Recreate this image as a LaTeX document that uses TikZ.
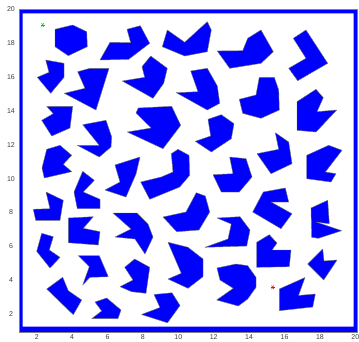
\documentclass[tikz,border=0pt]{standalone}
\usepackage{fontspec}
\setmainfont{Liberation Sans}
\begin{document}
\begin{tikzpicture}[x=1pt,y=-1pt,
  obs/.style={fill=blue, draw=black!55, line width=0.4pt, line join=round},
  ticklab/.style={font=\fontsize{7}{8}\selectfont, text=black!75, inner sep=0pt}]
\useasboundingbox (0,0) rectangle (359,341);
\fill[white] (0,0) rectangle (359,341);
% frame
\fill[blue, even odd rule] (19,9) rectangle (357,332) (22.5,13.3) rectangle (353.5,326.7);
\draw[black!50, line width=0.5pt] (19,9) rectangle (357,332);
% tick labels
\foreach \v in {2,4,...,20} {
  \node[ticklab] (xl\v) at ({19+(\v-1)*17.7},337.5) {\v};
  \node[ticklab] (yl\v) at (11,{331-(\v-1)*16.93}) {\v};
}
% obstacles
\draw[obs] (55,29.3)--(72.7,25)--(86.7,31.7)--(87.3,46.7)--(68.3,55.7)--(55,46.7)--cycle;
\draw[obs] (100,60)--(110,42.3)--(130.7,42.7)--(127,29.3)--(140.3,25.7)--(149.7,43.3)--(128.7,59.3)--cycle;
\draw[obs] (162.3,46.7)--(167.3,30)--(184.7,42.3)--(207.3,21.7)--(211.3,30)--(207.3,51.7)--(184.7,56)--cycle;
\draw[obs] (217.3,51)--(242.7,50.7)--(247.7,38.3)--(261,30)--(273.3,51.7)--(261,63.3)--(229.7,68.3)--cycle;
\draw[obs] (293.3,38.3)--(306,30)--(327.7,63.3)--(297.7,80.7)--(288.7,68.3)--(306,58.3)--cycle;
\draw[obs] (45.7,60)--(64,63.3)--(64,77.3)--(50.7,93.3)--(37.3,77.3)--(49,72.3)--cycle;
\draw[obs] (77.7,71.7)--(90,68.3)--(109,68.3)--(96,110)--(64.3,93.3)--(85,88.3)--cycle;
\draw[obs] (122.3,81)--(144.7,77.3)--(142,66.7)--(150.7,56)--(167.3,68.3)--(163.7,83.3)--(153,98.3)--cycle;
\draw[obs] (190.7,71)--(207.3,68.3)--(217.3,86)--(219.7,103.3)--(207.3,110)--(176.3,92.7)--(198,91.7)--cycle;
\draw[obs] (259.3,77.3)--(274.3,77.3)--(278.7,90)--(279.3,110)--(261,118.3)--(242.7,113.3)--(239.3,99.3)--(256,95)--cycle;
\draw[obs] (297,101.7)--(316,89.3)--(323.3,97.7)--(317,111.7)--(336.7,110)--(316,132)--(297,130.3)--cycle;
\draw[obs] (46.7,106.3)--(72.7,106.3)--(70,128)--(51.7,136)--(41.7,120.3)--(53.3,113.7)--cycle;
\draw[obs] (82.7,124.7)--(106,120.3)--(111.7,137)--(111,147)--(99.3,157)--(77.3,145.3)--(99.3,145.3)--cycle;
\draw[obs] (138.3,108)--(171.7,106.3)--(180.7,125.3)--(163,148.7)--(127.3,132)--(151.3,128)--(136,113)--cycle;
\draw[obs] (208,119.3)--(221.3,114.7)--(234,123.7)--(231.3,138.7)--(211.3,152)--(195.3,141.3)--(210.7,136)--cycle;
\draw[obs] (275.3,132.7)--(288.7,142)--(292,163.7)--(271,173.7)--(257,153.7)--(278.7,149.3)--cycle;
\draw[obs] (306.7,155.3)--(328.7,145.3)--(342,150.3)--(325.3,172)--(336,173.7)--(331,182)--(306.7,178.7)--cycle;
\draw[obs] (46.7,149.3)--(60,145.3)--(71.7,155.3)--(63.3,164.3)--(71.7,171.7)--(44.3,178)--(42,168)--cycle;
\draw[obs] (74,192)--(82.7,171.3)--(94.3,180.3)--(83.3,192)--(100,199.3)--(100,208.7)--(77.3,208.7)--cycle;
\draw[obs] (46,192)--(63.3,200.3)--(60,220.3)--(35.7,220.3)--(33.3,209.3)--(50,208.7)--cycle;
\draw[obs] (115,165)--(140,157)--(136,174)--(126,197)--(105,190)--(120,182)--cycle;
\draw[obs] (140.7,182)--(161.3,177)--(173,172)--(171.3,153.7)--(178,149.3)--(189,155.3)--(189.7,175.3)--(179.7,187)--(149.7,199.3)--cycle;
\draw[obs] (113,213)--(137,213)--(148,224)--(153,237)--(145,254)--(135,239)--(115,237)--(131,229)--cycle;
\draw[obs] (163,217)--(186,212)--(196.3,192.7)--(205.3,196)--(209.7,212)--(199,230)--(176.7,231.7)--cycle;
\draw[obs] (229.7,157)--(246,158.7)--(252,177)--(239.3,192)--(221.3,192)--(213,174.7)--(233,173.7)--cycle;
\draw[obs] (252.7,212)--(263.3,192)--(285.3,188)--(288.7,202)--(271,202)--(292,213.7)--(281,228.7)--cycle;
\draw[obs] (311,208)--(327.7,200.3)--(329.3,223.7)--(316,222)--(341.7,230.7)--(318.3,238.3)--(311.7,237.3)--cycle;
\draw[obs] (68.3,218)--(93.3,216.7)--(83.3,228.3)--(100,231.7)--(98.3,245)--(68.3,242.7)--cycle;
\draw[obs] (41.7,233.3)--(53.3,236.7)--(49.3,250)--(60,257.3)--(50,268)--(36.7,251.3)--cycle;
\draw[obs] (217,218)--(240,216.7)--(250,230)--(246.7,246)--(205,247.3)--(228,239)--(231.3,224)--cycle;
\draw[obs] (256.7,242.3)--(269.3,234.7)--(277,243)--(272,250)--(291,250)--(289.3,266.7)--(256.7,267.3)--cycle;
\draw[obs] (307.7,264)--(322.7,249)--(324,261)--(337,260)--(323.7,280)--cycle;
\draw[obs] (62.7,277.3)--(68.3,290.7)--(81.7,300)--(73.3,314.7)--(46.7,289)--cycle;
\draw[obs] (78.3,255.7)--(99.3,255.7)--(108.3,276.7)--(90,277.3)--(82.7,285)--(89.3,266.7)--cycle;
\draw[obs] (95,302)--(106.7,298)--(121,310)--(118,318.5)--(91.7,318.7)--(101.7,311)--cycle;
\draw[obs] (124.7,267.3)--(134.7,259)--(149.7,267.3)--(146,293.3)--(131.7,291.7)--(120,286.7)--(133,280)--cycle;
\draw[obs] (154,294.5)--(172,292.8)--(180,305.5)--(167.5,322.8)--(141.5,314.5)--(160,307.5)--cycle;
\draw[obs] (168,242.3)--(188,247.3)--(203,259)--(203,276.7)--(188,288.3)--(168,279)--(181.3,273.3)--cycle;
\draw[obs] (217,268)--(236,264)--(247.7,265.7)--(256,277.3)--(256,287.3)--(247.7,299)--(238.3,306)--(216.7,300)--(233.3,288.3)--(220,280)--cycle;
\draw[obs] (279.3,289)--(305,277.5)--(298.5,295.5)--(315.3,294)--(312.7,307)--(279.3,310.7)--cycle;
% start and goal markers
\foreach \a in {0,60,120} {
  \draw[green!80!black, line width=0.5pt] (42.7,25) +(\a:2.2) -- +(\a+180:2.2);
  \draw[red, line width=0.5pt] (272.7,287.3) +(\a:2.2) -- +(\a+180:2.2);
}
\end{tikzpicture}
\end{document}
